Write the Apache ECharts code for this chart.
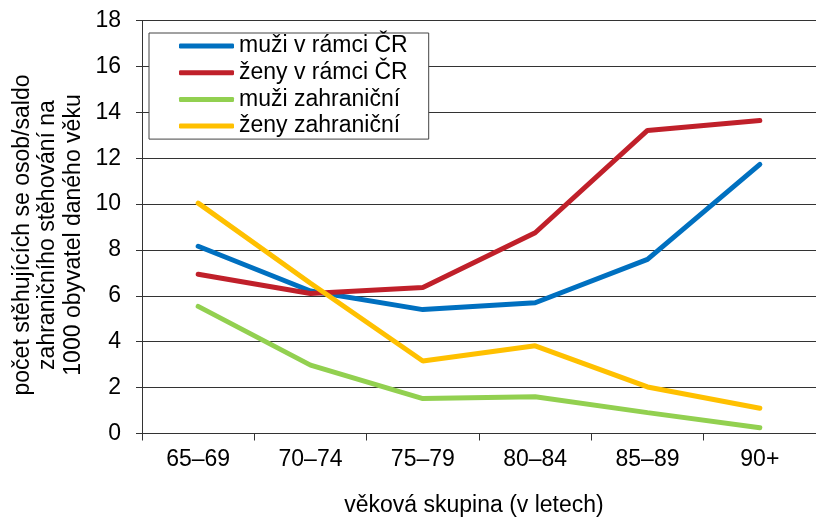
<!DOCTYPE html>
<html>
<head>
<meta charset="utf-8">
<script src="https://cdn.jsdelivr.net/npm/echarts@6/dist/echarts.min.js"></script>
<style>
html,body{margin:0;padding:0;background:#fff;}
#chart{width:816px;height:519px;}
</style>
</head>
<body>
<div id="chart"></div>
<script>
var categories = ['65–69', '70–74', '75–79', '80–84', '85–89', '90+'];
var seriesNames = ['muži v rámci ČR', 'ženy v rámci ČR', 'muži zahraniční', 'ženy zahraniční'];
var muziCR = [8.16, 6.21, 5.40, 5.70, 7.59, 11.73];
var zenyCR = [6.94, 6.10, 6.36, 8.75, 13.21, 13.64];
var muziZahr = [5.54, 2.98, 1.52, 1.60, 0.91, 0.25];
var zenyZahr = [10.04, 6.55, 3.16, 3.82, 2.03, 1.10];
var colors = ['#0070C0', '#C0202A', '#92D050', '#FFC000'];
var yTitle = 'počet stěhujících se osob/saldo\nzahraničního stěhování na\n1000 obyvatel daného věku';
var xTitle = 'věková skupina (v letech)';

var font = '"Liberation Sans", Arial, sans-serif';
var chart = echarts.init(document.getElementById('chart'), null, {renderer: 'canvas'});
var data = [muziCR, zenyCR, muziZahr, zenyZahr];
var series = data.map(function (d, i) {
  return {
    name: seriesNames[i],
    type: 'line',
    data: d,
    showSymbol: false,
    symbol: 'none',
    lineStyle: {width: 5, color: colors[i], cap: 'round'},
    itemStyle: {color: colors[i]},
    animation: false
  };
});
chart.setOption({
  animation: false,
  color: colors,
  grid: {left: 142, right: -6, top: 20.5, bottom: 85.5, containLabel: false},
  legend: {
    orient: 'vertical',
    left: 149,
    top: 33,
    padding: [0, 21, 0, 30],
    itemWidth: 55,
    itemHeight: 5,
    itemGap: 0.7,
    icon: 'roundRect',
    borderColor: '#444',
    borderWidth: 1,
    backgroundColor: '#fff',
    textStyle: {fontFamily: font, fontSize: 23, color: '#000', lineHeight: 26},
    data: seriesNames
  },
  xAxis: {
    type: 'category',
    data: categories,
    boundaryGap: true,
    axisLine: {lineStyle: {color: '#333', width: 1}},
    axisTick: {show: true, length: 7, lineStyle: {color: '#333'}},
    axisLabel: {fontFamily: font, fontSize: 23, color: '#000', margin: 15}
  },
  yAxis: {
    type: 'value',
    min: 0,
    max: 18,
    interval: 2,
    axisLine: {show: true, lineStyle: {color: '#333', width: 1}},
    axisTick: {show: true, length: 6, lineStyle: {color: '#333'}},
    axisLabel: {fontFamily: font, fontSize: 23, color: '#000', margin: 21},
    splitLine: {show: true, lineStyle: {color: '#333', width: 1}}
  },
  graphic: [
    {
      type: 'text',
      x: 48, y: 235,
      rotation: Math.PI / 2,
      style: {
        text: yTitle,
        fontFamily: font, fontSize: 23, lineHeight: 25.5,
        fill: '#000', align: 'center', verticalAlign: 'middle'
      }
    },
    {
      type: 'text',
      x: 474, y: 506,
      style: {
        text: xTitle,
        fontFamily: font, fontSize: 23,
        fill: '#000', align: 'center', verticalAlign: 'middle'
      }
    }
  ],
  series: series
});
</script>
</body>
</html>
